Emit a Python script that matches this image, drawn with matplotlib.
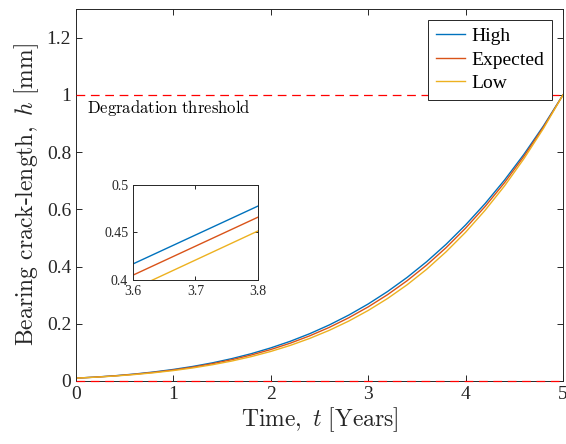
import numpy as np
import matplotlib
matplotlib.use("Agg")
import matplotlib.pyplot as plt
from matplotlib.ticker import FormatStrFormatter

plt.rcParams["font.family"] = ["Liberation Serif", "DejaVu Serif"]
plt.rcParams["mathtext.fontset"] = "cm"

# =========================
# DATA
# =========================
t = np.arange(0, 5.01, 0.2)

h_high = [0.0100, 0.0137, 0.0184, 0.0243, 0.0316, 0.0404, 0.0509, 0.0634, 0.0782,
          0.0955, 0.1157, 0.1388, 0.1654, 0.1958, 0.2303, 0.2692, 0.3130, 0.3621,
          0.4169, 0.4778, 0.5454, 0.6200, 0.7023, 0.7927, 0.8917, 1.0000]
h_expected = [0.0100, 0.0135, 0.0180, 0.0236, 0.0303, 0.0386, 0.0485, 0.0604, 0.0744,
              0.0909, 0.1100, 0.1322, 0.1579, 0.1873, 0.2209, 0.2590, 0.3020, 0.3506,
              0.4051, 0.4661, 0.5342, 0.6098, 0.6932, 0.7858, 0.8878, 1.0000]
h_low = [0.0100, 0.0133, 0.0174, 0.0226, 0.0289, 0.0365, 0.0457, 0.0568, 0.0698,
         0.0853, 0.1033, 0.1244, 0.1489, 0.1770, 0.2094, 0.2465, 0.2886, 0.3364,
         0.3904, 0.4516, 0.5199, 0.5965, 0.6819, 0.7774, 0.8830, 1.0000]

labels = ["High", "Expected", "Low"]
colors = ["#0072BD", "#D95319", "#EDB120"]
threshold = 1.0

# =========================
# MAIN PLOT
# =========================
fig = plt.figure(figsize=(5.66, 4.44), dpi=100)
ax = fig.add_axes([0.1343, 0.1419, 0.8604, 0.8378])

for h, lab, c in zip([h_high, h_expected, h_low], labels, colors):
    ax.plot(t, h, color=c, lw=1.0, label=lab)

ax.axhline(threshold, color="#FF0000", ls=(0, (7, 4.5)), lw=0.9, zorder=5)
ax.axhline(0, color="#FF0000", ls=(0, (7, 4.5)), lw=0.9, zorder=5, clip_on=False)
ax.text(0.11, 0.935, r"$\mathrm{Degradation\ threshold}$", fontsize=12)

ax.set_xlim(0, 5)
ax.set_ylim(0, 1.3)
ax.set_xticks([0, 1, 2, 3, 4, 5])
ax.set_yticks([0, 0.2, 0.4, 0.6, 0.8, 1.0, 1.2])
ax.yaxis.set_major_formatter(FormatStrFormatter("%g"))
ax.tick_params(direction="in", top=True, right=True, labelsize=14,
               length=4, width=0.7, colors="#262626", labelcolor="#262626")
for s in ax.spines.values():
    s.set_color("#262626")
    s.set_linewidth(0.7)

ax.set_xlabel(r"$\mathrm{Time,}\ t\ \mathrm{[Years]}$", fontsize=17, color="#262626", labelpad=2)
ax.set_ylabel(r"$\mathrm{Bearing\ crack\text{-}length,}\ h\ \mathrm{[mm]}$", fontsize=17,
              color="#262626", labelpad=4)

leg = ax.legend(loc="upper right", fontsize=14, fancybox=False, framealpha=1,
                edgecolor="#262626", borderaxespad=0.55, handlelength=1.5,
                handletextpad=0.35, labelspacing=0.3, borderpad=0.4)
leg.get_frame().set_linewidth(0.7)

# =========================
# INSET ZOOM
# =========================
axin = fig.add_axes([0.235, 0.3694, 0.2208, 0.214])
for h, c in zip([h_high, h_expected, h_low], colors):
    axin.plot(t, h, color=c, lw=1.0)
axin.set_xlim(3.6, 3.8)
axin.set_ylim(0.4, 0.5)
axin.set_xticks([3.6, 3.7, 3.8])
axin.set_yticks([0.4, 0.45, 0.5])
axin.yaxis.set_major_formatter(FormatStrFormatter("%g"))
axin.tick_params(direction="in", top=True, right=True, labelsize=10,
                 length=3, width=0.7, colors="#262626", labelcolor="#262626")
for s in axin.spines.values():
    s.set_color("#262626")
    s.set_linewidth(0.7)

fig.savefig("out.png", dpi=100)
